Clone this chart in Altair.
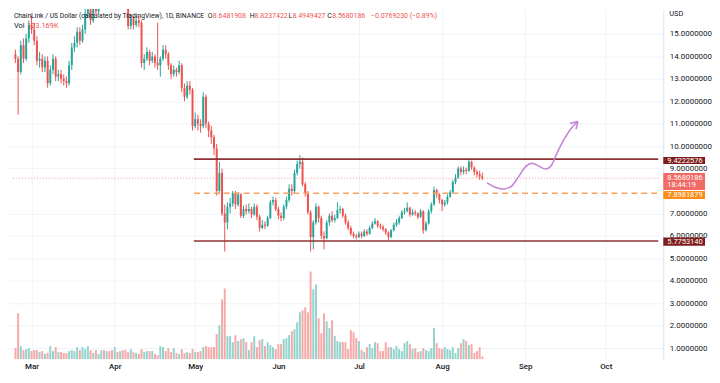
import altair as alt
import numpy as np
import pandas as pd

# ---------------- data ----------------
start_date = "2022-02-23"
first_open = 14.1
closes = [13.9, 13.3, 14.5, 13.9, 14.8, 15.4, 15.2, 14.7, 13.8, 13.9,
          13.5, 13.8, 12.8, 13.4, 13.9, 13.1, 13.2, 13.0, 12.9, 12.8,
          13.6, 14.4, 14.6, 15.1, 14.7, 15.2, 15.9, 16.1, 15.6, 16.3,
          16.0, 16.8, 17.4, 17.0, 17.6, 17.2, 16.8, 17.3, 17.0, 17.5,
          17.1, 16.4, 15.35, 15.7, 15.4, 15.6, 15.5, 13.7, 13.9, 14.2,
          13.8, 14.0, 13.7, 13.6, 13.9, 14.3, 14.1, 13.6, 13.2, 13.4,
          13.3, 13.6, 12.6, 12.2, 12.7, 12.5, 10.9, 11.2, 11.0, 10.9,
          12.2, 11.0, 10.7, 10.4, 9.9, 8.0, 8.8, 7.0, 6.6, 7.3,
          7.45, 7.9, 7.4, 7.85, 6.9, 7.2, 7.1, 7.2, 6.95, 7.3,
          6.85, 6.35, 6.5, 6.45, 6.8, 7.5, 7.6, 7.2, 6.9, 6.8,
          7.3, 7.6, 8.1, 8.0, 8.8, 9.2, 9.3, 8.3, 7.9, 7.05,
          5.95, 6.6, 7.3, 6.8, 6.0, 5.9, 6.6, 6.9, 6.7, 6.8,
          7.15, 7.2, 6.9, 6.6, 6.35, 6.1, 6.0, 5.95, 6.1, 6.0,
          6.2, 6.1, 6.35, 6.55, 6.65, 6.45, 6.4, 6.3, 6.15, 5.95,
          6.25, 6.5, 6.6, 6.8, 7.05, 7.1, 7.25, 6.95, 7.05, 7.0,
          6.85, 7.1, 6.25, 6.55, 7.1, 7.4, 8.05, 7.85, 7.6, 7.4,
          7.5, 7.75, 7.95, 8.4, 8.6, 9.0, 8.85, 8.95, 8.9, 9.3,
          9.05, 8.85, 8.75, 8.6481908, 8.5680186]
highs = [14.3, 14.0, 14.7, 14.8, 15.0, 15.6, 15.8, 15.5, 14.9, 14.2,
         14.1, 14.0, 14.0, 13.6, 14.1, 14.0, 13.4, 13.4, 13.2, 13.1,
         13.8, 14.6, 14.9, 15.3, 15.3, 15.4, 16.1, 16.4, 16.3, 16.6,
         16.6, 17.0, 17.7, 17.8, 17.9, 17.8, 17.4, 17.5, 17.5, 17.7,
         17.7, 17.2, 16.6, 15.9, 15.8, 15.8, 15.8, 15.6, 14.1, 14.4,
         14.3, 14.2, 14.1, 15.5, 14.0, 14.5, 14.5, 14.2, 13.7, 13.6,
         13.5, 13.8, 13.7, 12.8, 12.9, 12.9, 12.6, 11.5, 11.4, 11.2,
         12.4, 12.3, 11.1, 10.9, 10.5, 10.1, 9.3, 9.0, 7.4, 7.5,
         7.7, 8.0, 8.0, 7.95, 7.9, 7.35, 7.4, 7.45, 7.3, 7.45,
         7.4, 6.95, 6.7, 6.65, 6.9, 7.6, 7.75, 7.7, 7.3, 7.05,
         7.4, 7.75, 8.3, 8.3, 8.95, 9.35, 9.6, 9.5, 8.4, 8.0,
         7.15, 6.7, 7.45, 7.35, 6.9, 6.2, 6.7, 7.0, 7.1, 6.95,
         7.5, 7.35, 7.25, 7.0, 6.7, 6.45, 6.2, 6.1, 6.2, 6.2,
         6.3, 6.3, 6.45, 6.65, 6.8, 6.7, 6.55, 6.5, 6.35, 6.2,
         6.3, 6.6, 6.75, 6.9, 7.15, 7.25, 7.5, 7.3, 7.2, 7.15,
         7.05, 7.2, 7.15, 6.65, 7.2, 7.5, 8.2, 8.1, 7.9, 7.65,
         7.6, 7.85, 8.05, 8.5, 8.75, 9.1, 9.1, 9.1, 9.05, 9.45,
         9.35, 9.1, 8.95, 8.9, 8.8237422]
lows = [13.7, 11.4, 13.2, 13.7, 13.8, 14.6, 15.0, 14.5, 13.6, 13.5,
        13.3, 13.3, 12.6, 12.7, 13.2, 12.9, 12.9, 12.8, 12.7, 12.6,
        12.7, 13.4, 14.2, 14.4, 14.5, 14.6, 15.0, 15.7, 15.4, 15.5,
        15.8, 15.9, 16.6, 16.8, 16.9, 17.0, 16.6, 16.7, 16.8, 16.9,
        16.9, 16.2, 15.2, 15.2, 15.2, 15.3, 15.3, 13.5, 13.4, 13.8,
        13.6, 13.7, 13.5, 13.4, 13.1, 13.8, 13.9, 13.4, 13.0, 13.1,
        13.1, 13.2, 12.4, 12.0, 12.1, 12.3, 10.7, 10.8, 10.7, 10.6,
        10.8, 10.8, 10.4, 10.1, 9.6, 7.8, 7.9, 6.9, 5.3, 6.3,
        7.0, 7.3, 7.2, 7.3, 6.8, 6.8, 6.95, 7.0, 6.8, 6.9,
        6.7, 6.2, 6.3, 6.3, 6.4, 6.75, 7.35, 7.1, 6.75, 6.65,
        6.7, 7.2, 7.5, 7.8, 7.9, 8.7, 9.0, 8.2, 7.75, 6.95,
        5.3, 5.4, 6.5, 6.6, 5.85, 5.4, 5.85, 6.45, 6.6, 6.6,
        6.75, 7.0, 6.8, 6.5, 6.25, 6.0, 5.9, 5.85, 5.9, 5.9,
        5.95, 6.0, 6.05, 6.3, 6.5, 6.35, 6.3, 6.2, 6.05, 5.82,
        5.9, 6.2, 6.4, 6.5, 6.75, 6.95, 7.05, 6.85, 6.9, 6.9,
        6.75, 6.8, 6.1, 6.2, 6.5, 7.0, 7.35, 7.7, 7.45, 7.1,
        7.3, 7.4, 7.7, 7.9, 8.3, 8.55, 8.7, 8.75, 8.75, 8.85,
        8.95, 8.7, 8.6, 8.5, 8.4949427]
volumes_k = [440, 1840, 520, 360, 400, 440, 320, 360, 360, 280,
             320, 200, 240, 520, 320, 480, 280, 280, 240, 240,
             320, 360, 320, 480, 360, 480, 400, 520, 360, 240,
             360, 200, 360, 360, 320, 320, 360, 480, 280, 320,
             360, 360, 280, 400, 280, 240, 200, 400, 280, 320,
             320, 320, 200, 160, 520, 480, 320, 440, 280, 440,
             240, 200, 400, 240, 280, 240, 400, 280, 280, 320,
             480, 520, 480, 480, 480, 1000, 1360, 2400, 2840, 920,
             920, 680, 960, 720, 800, 840, 680, 360, 680, 920,
             480, 760, 800, 520, 680, 560, 480, 400, 600, 600,
             800, 840, 960, 1120, 1200, 1480, 1880, 1960, 2080, 1880,
             3520, 2800, 3000, 1640, 1040, 1840, 1520, 1240, 1560, 920,
             720, 680, 680, 680, 400, 1160, 1080, 840, 720, 360,
             280, 480, 600, 440, 680, 640, 320, 320, 680, 480,
             480, 400, 520, 400, 320, 640, 720, 600, 400, 440,
             280, 320, 440, 360, 320, 440, 1240, 640, 440, 400,
             480, 400, 360, 480, 240, 440, 640, 800, 720, 560,
             600, 240, 320, 480, 103]

# horizontal levels drawn on the chart
resistance = 9.4222576
support = 5.7753140
dashed_level = 7.8981879
last_price = 8.5680186
last_time = "18:44:19"
level_start = "2022-04-30T12:00:00Z"
chart_end = "2022-10-20T14:00:00Z"
chart_begin = "2022-02-22T02:00:00Z"

# projected path (purple arrow)
proj_dates = ["2022-08-17T17:00:00Z", "2022-08-20T14:00:00Z", "2022-08-23T12:00:00Z",
              "2022-08-26T12:00:00Z", "2022-08-29T10:00:00Z", "2022-09-01T07:00:00Z",
              "2022-09-03T12:00:00Z", "2022-09-06T02:00:00Z", "2022-09-08T14:00:00Z",
              "2022-09-10T19:00:00Z", "2022-09-13T00:00:00Z", "2022-09-15T12:00:00Z",
              "2022-09-18T02:00:00Z", "2022-09-20T14:00:00Z"]
proj_prices = [8.36, 8.18, 8.09, 8.18, 8.62, 9.11, 9.24, 9.11, 8.98, 9.16,
               9.73, 10.31, 10.79, 11.10]
arrow_from_dates = ["2022-09-19T22:00:00Z", "2022-09-17T17:00:00Z"]
arrow_from_prices = [10.75, 11.01]

# the 8.0000000 label is hidden behind the price tags in the reference
y_ticks = [1, 2, 3, 4, 5, 6, 7, 9, 10, 11, 12, 13, 14, 15]
month_ticks = [3, 4, 5, 6, 7, 8, 9, 10]

# ---------------- styling ----------------
GREEN = "#26a69a"
RED = "#ef5350"
VGREEN = "#93d3cd"
VRED = "#f7a9a8"
MAROON = "#7f1d1d"
FONT = "Roboto"
TXT = "#131722"

dates = pd.date_range(start_date, periods=len(closes), freq="D")
opens = [first_open] + closes[:-1]
df = pd.DataFrame({
    "date": dates.strftime("%Y-%m-%dT00:00:00Z"),
    "open": opens, "close": closes, "high": highs, "low": lows,
    "vol": volumes_k,
})
up = np.array(closes) >= np.array(opens)
df["col"] = np.where(up, GREEN, RED)
df["vcol"] = np.where(up, VGREEN, VRED)

x_dom = [alt.DateTime(year=2022, month=2, date=22, hours=2, utc=True),
         alt.DateTime(year=2022, month=10, date=20, hours=14, utc=True)]
x_axis = alt.Axis(values=[alt.DateTime(year=2022, month=m, date=1, utc=True) for m in month_ticks],
                  format="%b", grid=True, gridColor="#f0f3fa", domain=False, ticks=False,
                  labelPadding=4, labelFontSize=8, labelColor=TXT, labelFont=FONT,
                  labelFontWeight=500, zindex=0)
x_scale = alt.Scale(type="utc", domain=x_dom)
y_scale = alt.Scale(domain=[0.514, 16.11], nice=False, zero=False)
y_axis = alt.Axis(orient="right", values=y_ticks, format=".7f", grid=True, gridColor="#f0f3fa",
                  domain=True, domainColor="#e0e3eb", ticks=False, labelPadding=6,
                  labelFontSize=8, labelColor=TXT, labelFont=FONT, zindex=0)


def X(field="date"):
    return alt.X(f"{field}:T", scale=x_scale, axis=x_axis, title=None)


def Y(field):
    return alt.Y(f"{field}:Q", scale=y_scale, axis=y_axis, title=None)


base = alt.Chart(df)

volume = base.mark_bar(width=2, clip=True).encode(
    x=X(),
    y=alt.Y("vol:Q", scale=alt.Scale(domain=[0, 14080], nice=False), axis=None, title=None),
    color=alt.Color("vcol:N", scale=None),
)

wicks = base.mark_rule(strokeWidth=1, clip=True).encode(
    x=X(), y=Y("low"), y2="high:Q", color=alt.Color("col:N", scale=None))
bodies = base.mark_bar(width=2, clip=True).encode(
    x=X(), y=Y("open"), y2="close:Q", color=alt.Color("col:N", scale=None))

levels = pd.DataFrame({"date": [level_start, level_start], "date2": [chart_end, chart_end],
                       "p": [resistance, support]})
level_lines = alt.Chart(levels).mark_rule(color="#8e3335", strokeWidth=1.6).encode(
    x=X(), x2="date2:T", y=Y("p"))

dash_df = pd.DataFrame({"date": [level_start], "date2": [chart_end], "p": [dashed_level]})
dash_line = alt.Chart(dash_df).mark_rule(color="#f7a25e", strokeWidth=1.5, strokeDash=[6, 4]).encode(
    x=X(), x2="date2:T", y=Y("p"))

last_df = pd.DataFrame({"date": [chart_begin], "date2": [chart_end], "p": [last_price]})
last_line = alt.Chart(last_df).mark_rule(color=RED, strokeWidth=1, strokeDash=[1, 2], opacity=0.6).encode(
    x=X(), x2="date2:T", y=Y("p"))

proj_df = pd.DataFrame({"date": proj_dates, "p": proj_prices})
proj = alt.Chart(proj_df).mark_line(color="#c57fd8", strokeWidth=1.5, interpolate="monotone").encode(
    x=X(), y=Y("p"))
arrow_df = pd.DataFrame({"date": arrow_from_dates, "p": arrow_from_prices,
                         "date2": [proj_dates[-1]] * 2, "p2": [proj_prices[-1]] * 2})
arrow = alt.Chart(arrow_df).mark_rule(color="#c57fd8", strokeWidth=1.5).encode(
    x=X(), x2="date2:T", y=Y("p"), y2="p2:Q")

# price tags on the right axis
tags = pd.DataFrame({
    "top": [9.52, 8.80, 7.998, 5.93],
    "bot": [9.20, 8.05, 7.645, 5.565],
    "fill": [MAROON, "#f06a66", "#fb8c1a", MAROON],
})
tag_boxes = alt.Chart(tags).mark_rect().encode(
    x=alt.value(659), x2=alt.value(701), y=Y("top"), y2="bot:Q",
    color=alt.Color("fill:N", scale=None))
tag_text_df = pd.DataFrame({
    "p": [9.36, 8.60, 8.26, 7.82, 5.75],
    "t": [f"{resistance:.7f}", f"{last_price:.7f}", last_time, f"{dashed_level:.7f}", f"{support:.7f}"],
})
tag_texts = alt.Chart(tag_text_df).mark_text(align="left", baseline="middle", color="white",
                                             fontSize=7.5, font=FONT).encode(
    x=alt.value(663), y=Y("p"), text="t:N")

one = pd.DataFrame({"k": [0]})


def label(txt, x, y, color=TXT, size=7):
    return alt.Chart(one).mark_text(text=txt, align="left", baseline="middle", color=color,
                                    fontSize=size, font=FONT).encode(x=alt.value(x), y=alt.value(y))


texts = [
    label("ChainLink / US Dollar (calculated by TradingView), 1D, BINANCE", 6, 7, TXT, 6.8),
    label("O", 201, 7), label("8.6481908", 206, 7, RED),
    label("H", 243, 7), label("8.8237422", 248, 7, RED),
    label("L", 282, 7), label("8.4949427", 286, 7, RED),
    label("C", 321, 7), label("8.5680186", 326, 7, RED),
    label("\u22120.0769230 (\u22120.89%)", 365, 7, RED),
    label("Vol", 6, 17, TXT, 7.5), label("103.169K", 19, 17, RED, 7.5),
    label("USD", 665, 5, TXT, 7.5),
]

price_group = alt.layer(wicks, bodies, level_lines, dash_line, last_line, proj, arrow,
                        tag_boxes, tag_texts, *texts)

chart = alt.layer(volume, price_group).resolve_scale(y="independent").properties(
    width=659, height=352, padding=0, background="white"
).configure_view(stroke=None)

chart.save("out.html", embed_options={"renderer": "svg", "actions": False})
